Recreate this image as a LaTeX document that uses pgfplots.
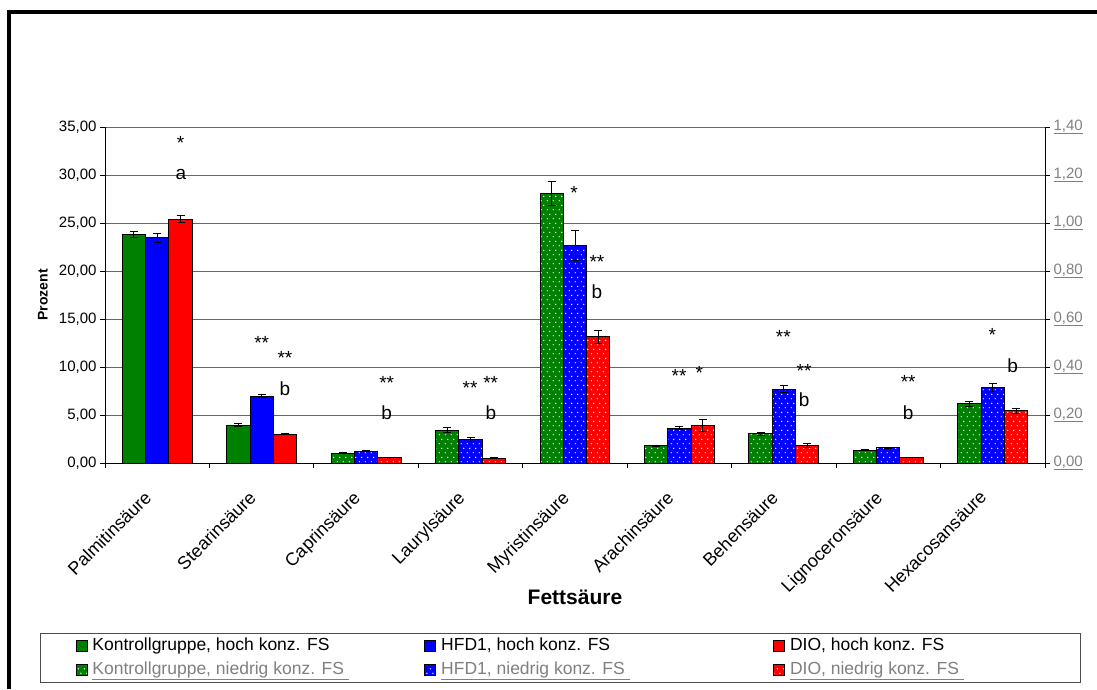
\documentclass[border=0pt]{standalone}
\usepackage{pgfplots}
\pgfplotsset{compat=1.18}
\usepackage{pgfplotstable}
\usepackage{fontspec}
\setmainfont{Liberation Sans}
\usetikzlibrary{patterns,patterns.meta}

\definecolor{kgreen}{RGB}{0,128,0}
\definecolor{kblue}{RGB}{0,0,255}
\definecolor{kred}{RGB}{255,0,0}

\tikzdeclarepattern{
  name=wdots,
  type=uncolored,
  bottom left={(0pt,0pt)},
  top right={(5.5pt,9.4pt)},
  tile size={(5.5pt,9.4pt)},
  code={
    \fill (1.375pt,2.35pt) circle (0.75pt);
    \fill (4.125pt,7.05pt) circle (0.75pt);
  }
}

\newcommand{\lw}[1]{\makebox[254pt][l]{#1}}

\pgfplotsset{
  ybar legend/.style={/pgfplots/legend image code/.code={\draw[##1,draw=black,line width=0.8pt] (0pt,-5.5pt) rectangle (11pt,5.5pt);}},
  base/.style={
    at={(105pt,226pt)}, anchor=south west, scale only axis,
    width=940pt, height=336pt,
    xmin=-0.5, xmax=8.5, ymin=0,
    ybar, bar width=23.3pt,
    axis line style={black, line width=1pt},
    tick style={black, line width=1pt},
    major tick length=5pt, tick align=outside,
    /pgf/number format/assume math mode=true,
    error bars/y dir=both, error bars/y explicit,
    error bars/error bar style={black, line width=1pt},
    error bars/error mark options={rotate=90, black, mark size=4pt, line width=1pt},
  },
  hi/.style={fill=#1, draw=black, line width=1pt},
  lo/.style={fill=#1, draw=black, line width=1pt, postaction={pattern=wdots, pattern color=white}},
}

% hoch konzentrierte FS (linke Achse, Prozent)
\pgfplotstableread{
x g ge b be r re
0 23.78 0.30 23.45 0.50 25.40 0.35
1 3.95 0.12 6.95 0.15 3.02 0.10
}\hoch

% niedrig konzentrierte FS (rechte Achse)
\pgfplotstableread{
x g ge b be r re
2 0.040 0.002 0.050 0.002 0.022 0.001
3 0.137 0.010 0.099 0.008 0.020 0.001
4 1.124 0.051 0.905 0.062 0.526 0.026
5 0.072 0.003 0.145 0.007 0.157 0.026
6 0.121 0.007 0.307 0.015 0.074 0.008
7 0.054 0.002 0.063 0.003 0.024 0.001
8 0.246 0.010 0.315 0.018 0.218 0.010
}\niedrig

\begin{document}
\begin{tikzpicture}
\path[use as bounding box] (0,0) rectangle (1097pt,689pt);
\draw[line width=4pt] (9pt,0pt) -- (9pt,677pt) -- (1097pt,677pt);

\begin{axis}[base,
  ymax=35,
  axis x line*=bottom, axis y line*=left,
  ytick={0,5,...,35},
  ymajorgrids, grid style={black!60, line width=1pt},
  yticklabel style={font=\fontsize{15}{15}\selectfont, /pgf/number format/.cd, fixed, fixed zerofill, precision=2, use comma},
  xtick={-0.5,0.5,...,8.5}, x tick label as interval,
  xticklabels={Palmitinsäure,Stearinsäure,Caprinsäure,Laurylsäure,Myristinsäure,Arachinsäure,Behensäure,Lignoceronsäure,Hexacosansäure},
  xticklabel style={xshift=-14pt, yshift=-20pt, rotate=45, anchor=north east, font=\fontsize{18}{18}\selectfont, inner sep=1pt},
  xlabel={Fettsäure},
  xlabel style={font=\bfseries\fontsize{21}{21}\selectfont, at={(axis description cs:0.5,-0.399)}, anchor=center},
  ylabel={Prozent},
  ylabel style={font=\bfseries\fontsize{14}{14}\selectfont, at={(axis description cs:-0.066,0.5)}, anchor=center},
]
\addplot[hi=kgreen, bar shift=-23.3pt] table[x=x, y=g, y error=ge] {\hoch};
\addplot[hi=kblue, bar shift=0pt] table[x=x, y=b, y error=be] {\hoch};
\addplot[hi=kred, bar shift=23.3pt] table[x=x, y=r, y error=re] {\hoch};

\begin{scope}[every node/.style={font=\fontsize{19}{19}\selectfont, anchor=base, inner sep=0pt}]
\node at (axis cs:0.223,32.67) {*};
\node at (axis cs:0.227,29.56) {a};
\node at (axis cs:1.000,11.80) {**};
\node at (axis cs:1.223,10.24) {**};
\node at (axis cs:1.223,7.02) {b};
\node at (axis cs:2.197,7.64) {**};
\node at (axis cs:2.197,4.58) {b};
\node at (axis cs:2.995,7.18) {**};
\node at (axis cs:3.193,7.64) {**};
\node at (axis cs:3.196,4.52) {b};
\node at (axis cs:3.990,27.43) {*};
\node at (axis cs:4.210,20.27) {**};
\node at (axis cs:4.210,17.16) {b};
\node at (axis cs:4.996,8.40) {**};
\node at (axis cs:5.190,8.68) {*};
\node at (axis cs:5.995,12.43) {**};
\node at (axis cs:6.193,8.95) {**};
\node at (axis cs:6.193,5.91) {b};
\node at (axis cs:7.190,7.80) {**};
\node at (axis cs:7.190,4.58) {b};
\node at (axis cs:7.996,12.67) {*};
\node at (axis cs:8.190,9.38) {b};
\end{scope}
\end{axis}

\begin{axis}[base,
  ymax=1.4,
  axis x line=none, axis y line*=right,
  ytick={0,0.2,...,1.4},
  yticklabel style={font=\fontsize{15}{15}\selectfont, color=black!50, /pgf/number format/.cd, fixed, fixed zerofill, precision=2, use comma},
  yticklabel={\underline{\pgfmathprintnumber{\tick}}},
  legend columns=3,
  legend cell align=left,
  legend style={
    at={(axis description cs:-0.069,-0.506)}, anchor=north west,
    draw=black!70, line width=1pt,
    font=\fontsize{17.5}{17.5}\selectfont,
    inner xsep=35pt, inner ysep=3.5pt,
    row sep=6pt,
    /tikz/every odd column/.append style={column sep=4pt},
    /tikz/every even column/.append style={column sep=77pt},
    nodes={inner xsep=1pt, inner ysep=1pt, text height=12pt, text depth=4pt, anchor=west},
  },
]
\addlegendimage{ybar legend, fill=kgreen}
\addlegendentry{\lw{Kontrollgruppe, hoch konz. FS}}
\addlegendimage{ybar legend, fill=kblue}
\addlegendentry{\lw{HFD1, hoch konz. FS}}
\addlegendimage{ybar legend, fill=kred}
\addlegendentry{\lw{DIO, hoch konz. FS}}
\addplot[lo=kgreen, bar shift=-23.3pt] table[x=x, y=g, y error=ge] {\niedrig};
\addlegendentry{\lw{\textcolor{black!50}{\underline{Kontrollgruppe, niedrig konz. FS\ }}}}
\addplot[lo=kblue, bar shift=0pt] table[x=x, y=b, y error=be] {\niedrig};
\addlegendentry{\lw{\textcolor{black!50}{\underline{HFD1, niedrig konz. FS\ }}}}
\addplot[lo=kred, bar shift=23.3pt] table[x=x, y=r, y error=re] {\niedrig};
\addlegendentry{\lw{\textcolor{black!50}{\underline{DIO, niedrig konz. FS\ }}}}
\end{axis}
\end{tikzpicture}
\end{document}
